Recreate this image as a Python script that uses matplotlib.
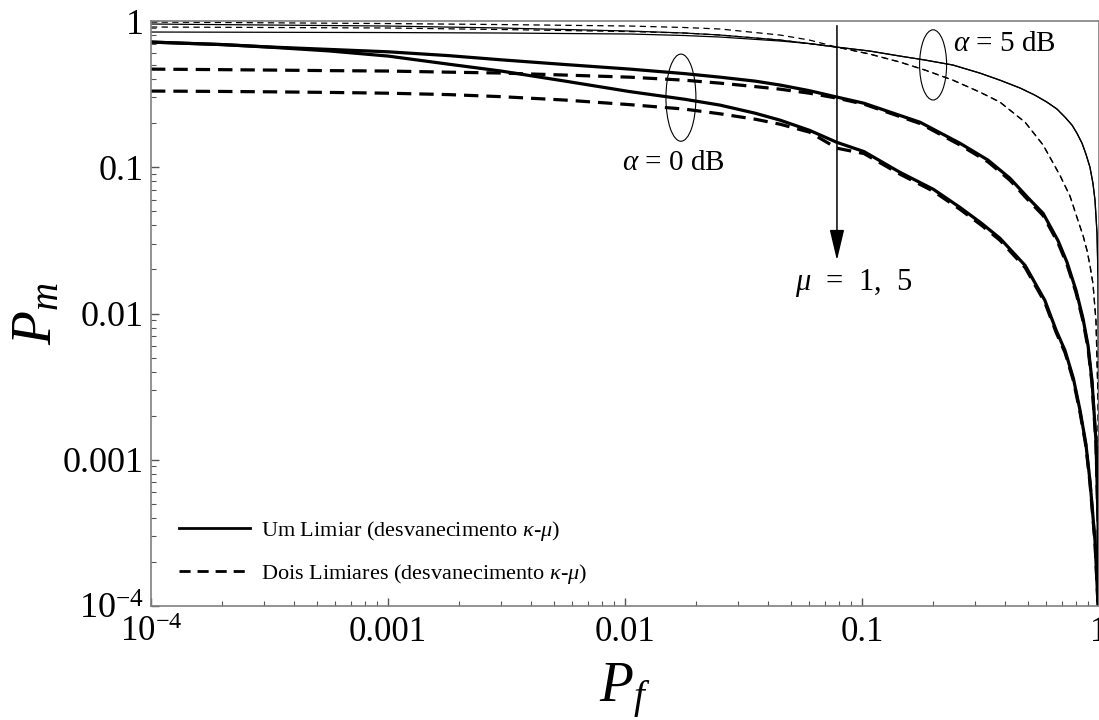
"""Pm x Pf — Um Limiar vs Dois Limiares, desvanecimento kappa-mu."""

import matplotlib

matplotlib.use("Agg")
import matplotlib.pyplot as plt
from matplotlib.lines import Line2D
from matplotlib.patches import Ellipse
from matplotlib.ticker import FixedLocator, FixedFormatter, NullFormatter, LogLocator

plt.rcParams["font.family"] = ["Liberation Serif", "DejaVu Serif"]
plt.rcParams["mathtext.fontset"] = "custom"
plt.rcParams["mathtext.rm"] = "Liberation Serif"
plt.rcParams["mathtext.it"] = "Liberation Serif:italic"

# alpha = 0 dB (thick curves): left part, where the four curves differ
pf_a0_head = [1e-4, 2e-4, 3.2e-4, 5.6e-4, 1e-3, 1.8e-3, 3e-3, 5.6e-3, 0.0105, 0.0178,
              0.0252, 0.0355, 0.0451, 0.06, 0.0784]
pm_a0_mu1_um_head = [0.718, 0.690, 0.664, 0.640, 0.616, 0.580, 0.543, 0.504, 0.469, 0.437,
                     0.413, 0.388, 0.365, 0.334, 0.302]
pm_a0_mu1_dois_head = [0.469, 0.465, 0.462, 0.458, 0.455, 0.447, 0.441, 0.427, 0.413, 0.394,
                       0.376, 0.356, 0.342, 0.321, 0.297]
pm_a0_mu5_um_head = [0.718, 0.690, 0.662, 0.625, 0.576, 0.507, 0.455, 0.388, 0.329, 0.292,
                     0.266, 0.234, 0.210, 0.179, 0.148]
pm_a0_mu5_dois_head = [0.332, 0.330, 0.328, 0.325, 0.321, 0.314, 0.304, 0.288, 0.268, 0.250,
                       0.232, 0.213, 0.197, 0.174, 0.135]

# alpha = 0 dB, mu = 1 : towards Pf = 1
pf_a0_mu1_tail = [0.102, 0.176, 0.259, 0.34, 0.421, 0.50, 0.581, 0.671, 0.733, 0.80,
                  0.856, 0.899, 0.934, 0.971, 0.991, 0.998]
pm_a0_mu1_um_tail = [0.274, 0.203, 0.146, 0.112, 0.0841, 0.0622, 0.0484, 0.0316, 0.0224,
                     0.0144, 0.00924, 0.00604, 0.00348, 0.00135, 0.000382, 0.00003]
pm_a0_mu1_dois_tail = [0.270, 0.199, 0.142, 0.109, 0.0815, 0.0602, 0.0468, 0.0305, 0.0216,
                       0.0139, 0.0089, 0.0058, 0.00335, 0.0013, 0.000368, 0.00003]

# alpha = 0 dB, mu = 5 : towards Pf = 1
pf_a0_mu5_tail = [0.102, 0.1445, 0.2, 0.259, 0.32, 0.382, 0.488, 0.591, 0.66, 0.719, 0.78,
                  0.832, 0.88, 0.916, 0.962, 0.991, 0.997]
pm_a0_mu5_um_tail = [0.128, 0.0924, 0.0707, 0.0532, 0.0413, 0.0327, 0.0213, 0.0123, 0.00765,
                     0.00558, 0.00359, 0.00217, 0.00129, 0.000718, 0.000279, 0.0001, 0.00003]
pm_a0_mu5_dois_tail = [0.124, 0.0898, 0.0686, 0.0516, 0.0400, 0.0317, 0.0206, 0.0119, 0.0074,
                       0.0054, 0.00347, 0.0021, 0.00125, 0.000695, 0.00027, 0.0001, 0.00003]

# alpha = 5 dB (thin curves): left part
pf_a5_head = [1e-4, 1e-3, 3e-3, 0.0105, 0.0178, 0.0252, 0.0451, 0.06, 0.0784]
pm_a5_mu1_dois_head = [0.984, 0.961, 0.946, 0.924, 0.903, 0.882, 0.802, 0.741, 0.663]
pm_a5_mu1_um_head = [0.954, 0.924, 0.896, 0.854, 0.828, 0.802, 0.741, 0.701, 0.663]
pm_a5_mu5_dois_head = [0.910, 0.896, 0.875, 0.847, 0.828, 0.802, 0.741, 0.701, 0.663]
pm_a5_mu5_um_head = [0.841, 0.834, 0.828, 0.815, 0.796, 0.777, 0.730, 0.701, 0.663]

# alpha = 5 dB: right part (mu = 1 and mu = 5 coincide)
pf_a5_um_tail = [0.108, 0.1445, 0.1845, 0.242, 0.315, 0.382, 0.465, 0.537, 0.603, 0.665,
                 0.719, 0.770, 0.807, 0.848, 0.881, 0.916, 0.943, 0.962, 0.981, 0.991,
                 0.996, 0.9995]
pm_a5_um_tail = [0.623, 0.576, 0.541, 0.500, 0.440, 0.394, 0.348, 0.311, 0.279, 0.250,
                 0.220, 0.194, 0.171, 0.146, 0.123, 0.100, 0.0776, 0.0594, 0.0353, 0.0168,
                 0.00254, 0.00003]
pf_a5_dois_tail = [0.108, 0.1445, 0.1845, 0.242, 0.315, 0.382, 0.488, 0.581, 0.684, 0.755,
                   0.807, 0.856, 0.890, 0.916, 0.943, 0.971, 0.991, 0.9995]
pm_a5_dois_tail = [0.594, 0.524, 0.462, 0.394, 0.326, 0.279, 0.203, 0.142, 0.0882, 0.0633,
                   0.0455, 0.0342, 0.027, 0.0213, 0.016, 0.00895, 0.00254, 0.00003]

x_ticks = [1e-4, 1e-3, 1e-2, 1e-1, 1]
x_labels = [r"$10^{-4}$", "0.001", "0.01", "0.1", "1"]
y_ticks = [1e-4, 1e-3, 1e-2, 1e-1, 1]
y_labels = [r"$10^{-4}$", "0.001", "0.01", "0.1", "1"]

fig = plt.figure(figsize=(10.99, 7.2), dpi=100)
ax = fig.add_axes([0.1374, 0.1583, 0.8626, 0.8125])

thick = dict(color="black", linewidth=2.3)
thin = dict(color="black", linewidth=0.9)
dash_thick = (0, (4.5, 2.5))
dash_thin = (0, (5, 3.5))

ax.plot(pf_a0_head + pf_a0_mu1_tail, pm_a0_mu1_um_head + pm_a0_mu1_um_tail, "-", **thick)
ax.plot(pf_a0_head + pf_a0_mu1_tail, pm_a0_mu1_dois_head + pm_a0_mu1_dois_tail,
        linestyle=dash_thick, **thick)
ax.plot(pf_a0_head + pf_a0_mu5_tail, pm_a0_mu5_um_head + pm_a0_mu5_um_tail, "-", **thick)
ax.plot(pf_a0_head + pf_a0_mu5_tail, pm_a0_mu5_dois_head + pm_a0_mu5_dois_tail,
        linestyle=dash_thick, **thick)

ax.plot(pf_a5_head + pf_a5_um_tail, pm_a5_mu1_um_head + pm_a5_um_tail, "-", **thin)
ax.plot(pf_a5_head + pf_a5_um_tail, pm_a5_mu5_um_head + pm_a5_um_tail, "-", **thin)
ax.plot(pf_a5_head + pf_a5_dois_tail, pm_a5_mu1_dois_head + pm_a5_dois_tail,
        linestyle=dash_thin, **thin)
ax.plot(pf_a5_head + pf_a5_dois_tail, pm_a5_mu5_dois_head + pm_a5_dois_tail,
        linestyle=dash_thin, **thin)

ax.set_xscale("log")
ax.set_yscale("log")
ax.set_xlim(1e-4, 1)
ax.set_ylim(1e-4, 1)

ax.xaxis.set_major_locator(FixedLocator(x_ticks))
ax.xaxis.set_major_formatter(FixedFormatter(x_labels))
ax.yaxis.set_major_locator(FixedLocator(y_ticks))
ax.yaxis.set_major_formatter(FixedFormatter(y_labels))
ax.xaxis.set_minor_locator(LogLocator(base=10, subs=range(2, 10)))
ax.yaxis.set_minor_locator(LogLocator(base=10, subs=range(2, 10)))
ax.xaxis.set_minor_formatter(NullFormatter())
ax.yaxis.set_minor_formatter(NullFormatter())
ax.tick_params(which="both", direction="in", top=False, right=False, color="#555555")
ax.tick_params(axis="x", labelsize=25, pad=7)
ax.tick_params(axis="y", labelsize=26, pad=5)
ax.tick_params(which="major", length=6, width=1.0)
ax.tick_params(which="minor", length=3.5, width=0.8)
for side in ["left", "bottom", "top", "right"]:
    ax.spines[side].set_color("#808080")
    ax.spines[side].set_linewidth(1.2)

ax.set_xlabel(r"$P_f$", fontsize=40, labelpad=9)
ax.set_ylabel(r"$P_m$", fontsize=40, labelpad=0)

# annotations
ax.add_patch(Ellipse((0.559, 0.869), 0.0316, 0.149, transform=ax.transAxes,
                     fill=False, edgecolor="black", linewidth=0.8))
ax.add_patch(Ellipse((0.825, 0.925), 0.0285, 0.12, transform=ax.transAxes,
                     fill=False, edgecolor="black", linewidth=0.8))
ax.text(0.0160, 0.107, r"$\alpha$ = 0 dB", fontsize=21, ha="center", va="center")
ax.text(0.40, 0.70, r"$\alpha$ = 5 dB", fontsize=21, ha="center", va="center")
ax.text(0.092, 0.0162, r"$\mu$  =  1,  5", fontsize=22, ha="center", va="center")
ax.annotate("", xy=(0.0784, 0.0231), xytext=(0.0784, 0.93),
            arrowprops=dict(arrowstyle="-|>,head_length=1.9,head_width=0.45",
                            color="black", linewidth=1.1, shrinkA=0, shrinkB=0))

handles = [
    Line2D([], [], color="black", linewidth=2.0, linestyle="-"),
    Line2D([], [], color="black", linewidth=2.0, linestyle=(0, (4, 2.5))),
]
labels = [r"Um Limiar (desvanecimento $\kappa$-$\mu$)",
          r"Dois Limiares (desvanecimento $\kappa$-$\mu$)"]
ax.legend(handles, labels, loc="lower left", bbox_to_anchor=(0.008, 0.0),
          frameon=False, fontsize=16, handlelength=3.2, handletextpad=0.5,
          labelspacing=0.85)

fig.savefig("out.png", dpi=100)
plt.close(fig)
